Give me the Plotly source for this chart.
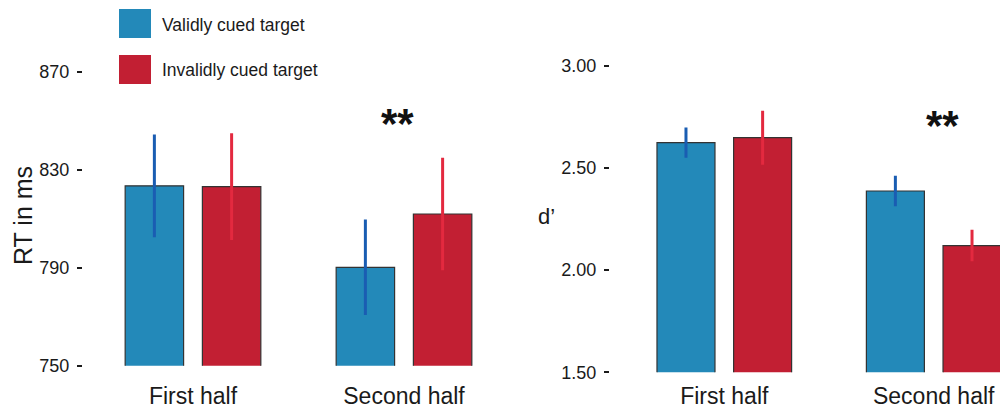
import plotly.graph_objects as go

# Condition labels and series
halves = ["First half", "Second half"]
series_names = ["Validly cued target", "Invalidly cued target"]

# Reaction time (ms): means and error half-widths
rt_valid = [823.5, 790.2]
rt_valid_err = [21.0, 19.5]
rt_invalid = [823.2, 812.0]
rt_invalid_err = [21.8, 23.0]

# Sensitivity d': means and error half-widths
d_valid = [2.624, 2.387]
d_valid_err = [0.074, 0.075]
d_invalid = [2.648, 2.120]
d_invalid_err = [0.132, 0.077]

# Tick values / labels
rt_ticks = [750, 790, 830, 870]
d_ticks = [1.5, 2.0, 2.5, 3.0]
d_ticklabels = ["1.50", "2.00", "2.50", "3.00"]

BLUE = "#2389B9"
RED = "#C21F33"
BLUE_ERR = "#1A5DB2"
RED_ERR = "#E3293F"
EDGE = "#333333"
FONT = "Liberation Sans, Arial, sans-serif"

x_pos = [0, 1]
BAR_W = 0.277
HALF_SEP = 0.183

fig = go.Figure()


def add_pair(valid, valid_err, invalid, invalid_err, xa, ya):
    for vals, errs, fill, ecol, off in [
        (valid, valid_err, BLUE, BLUE_ERR, -HALF_SEP - BAR_W / 2),
        (invalid, invalid_err, RED, RED_ERR, HALF_SEP - BAR_W / 2),
    ]:
        fig.add_trace(go.Bar(
            x=x_pos, y=vals, width=BAR_W, offset=off,
            marker=dict(color=fill, line=dict(color=EDGE, width=1.2)),
            error_y=dict(type="data", array=errs, visible=True,
                         color=ecol, thickness=3, width=0),
            xaxis=xa, yaxis=ya, showlegend=False, hoverinfo="skip",
        ))


add_pair(rt_valid, rt_valid_err, rt_invalid, rt_invalid_err, "x", "y")
add_pair(d_valid, d_valid_err, d_invalid, d_invalid_err, "x2", "y2")

tickfont = dict(family=FONT, size=18, color="#1a1a1a")
xtickfont = dict(family=FONT, size=23, color="#1a1a1a")

# left panel: category centres 0/1 sit at 193/404 px
# right panel: category centres 0/1 sit at 724.3/933.7 px
fig.update_layout(
    width=1000, height=410,
    margin=dict(l=0, r=0, t=0, b=0),
    paper_bgcolor="white", plot_bgcolor="white",
    barmode="overlay",
    font=dict(family=FONT, color="#1a1a1a"),
    xaxis=dict(domain=[0.083, 0.510], range=[-0.5213, 1.5024],
               tickvals=x_pos, ticktext=halves, ticks="", automargin=False,
               showgrid=False, zeroline=False, showline=False,
               tickfont=xtickfont, ticklabelstandoff=14),
    yaxis=dict(domain=[0.10805, 0.8839], range=[750, 880], automargin=False,
               tickvals=rt_ticks, ticks="outside", ticklen=5, tickwidth=2,
               tickcolor="#1a1a1a", showgrid=False, zeroline=False,
               showline=False, tickfont=tickfont, ticklabelstandoff=4),
    xaxis2=dict(domain=[0.610, 1.0], range=[(610 - 724.3) / 209.4, 1.3166],
                anchor="y2", automargin=False,
                tickvals=x_pos, ticktext=halves, ticks="",
                showgrid=False, zeroline=False, showline=False,
                tickfont=xtickfont, ticklabelstandoff=8),
    yaxis2=dict(domain=[0.09195, 0.8896], range=[1.5, 3.1], anchor="x2",
                automargin=False,
                tickvals=d_ticks, ticktext=d_ticklabels,
                ticks="outside", ticklen=5, tickwidth=2,
                tickcolor="#1a1a1a", showgrid=False, zeroline=False,
                showline=False, tickfont=tickfont, ticklabelstandoff=4),
)

# Axis titles
fig.add_annotation(text="RT in ms", textangle=-90, xref="paper", yref="paper",
                   x=23 / 1000, y=1 - 216 / 410, xanchor="center", yanchor="middle",
                   showarrow=False, font=dict(family=FONT, size=25, color="#1a1a1a"))
fig.add_annotation(text="d’", xref="paper", yref="paper",
                   x=546 / 1000, y=1 - 216 / 410, xanchor="center", yanchor="middle",
                   showarrow=False, font=dict(family=FONT, size=22, color="#1a1a1a"))

# Significance markers
star_font = dict(family=FONT, size=42, color="#111111")
fig.add_annotation(text="<b>**</b>", x=0.967, y=851.2, xref="x", yref="y",
                   showarrow=False, yshift=-5, font=star_font)
fig.add_annotation(text="<b>**</b>", x=1.044, y=2.734, xref="x2", yref="y2",
                   showarrow=False, yshift=-5, font=star_font)

# Legend: swatches and labels
for i, (name, col) in enumerate(zip(series_names, [BLUE, RED])):
    top = 9 + i * 46
    fig.add_shape(type="rect", xref="paper", yref="paper",
                  x0=119 / 1000, x1=151 / 1000,
                  y0=1 - (top + 29) / 410, y1=1 - top / 410,
                  fillcolor=col, line=dict(width=0))
    fig.add_annotation(text=name, xref="paper", yref="paper",
                       x=160 / 1000, y=1 - (top + 15.5) / 410,
                       xanchor="left", yanchor="middle", showarrow=False,
                       font=dict(family=FONT, size=17.5, color="#1a1a1a"))

fig.write_html("out.html")
